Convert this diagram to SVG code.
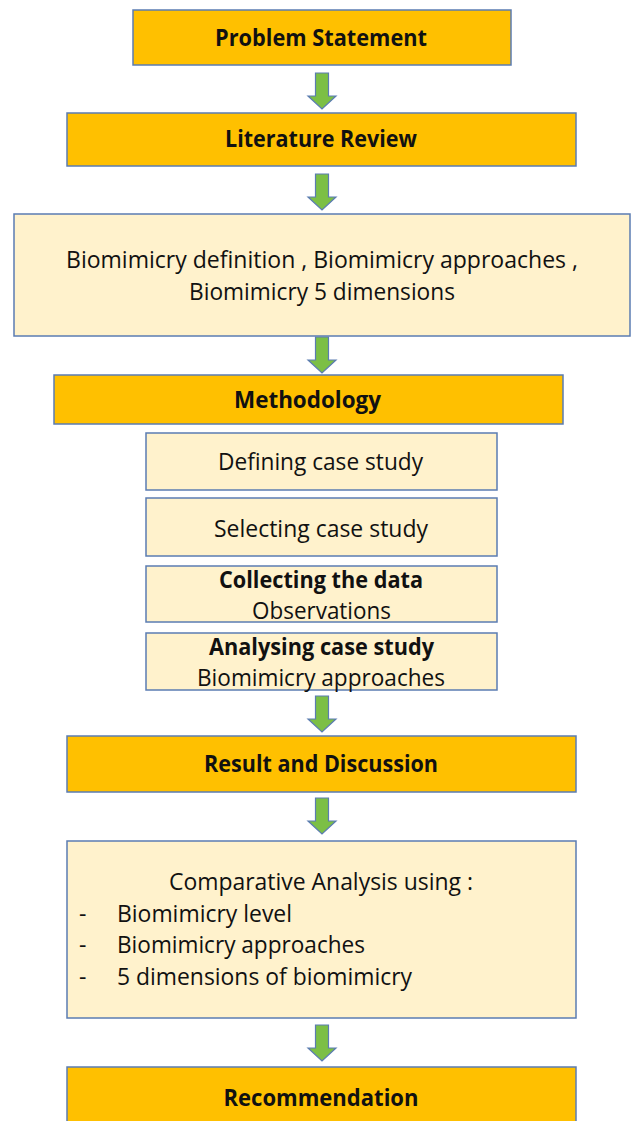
<svg xmlns="http://www.w3.org/2000/svg" width="631" height="1121" viewBox="0 0 631 1121" xmlns:xlink="http://www.w3.org/1999/xlink">
<style>
.dark{fill:#FFC000;stroke:#5B7CB2;stroke-width:1.5}
.light{fill:#FFF2CC;stroke:#5B7CB2;stroke-width:1.5}
text{font-family:"Open Sans","Liberation Sans",sans-serif;font-size:23px;fill:#111}
.b{font-weight:bold}
.c{text-anchor:middle}
.arr{fill:#7CBF45;stroke:#5B7CB2;stroke-width:1.2}
</style>
<defs>
<path id="arrow" d="M-6.5,0 H6.5 V23 H14 L0,36 L-14,23 H-6.5 Z"/>
</defs>
<rect width="631" height="1121" fill="#ffffff"/>
<g id="connectors">
<use xlink:href="#arrow" class="arr" x="322" y="73"/>
<use xlink:href="#arrow" class="arr" x="322" y="174"/>
<use xlink:href="#arrow" class="arr" x="322" y="337"/>
<use xlink:href="#arrow" class="arr" x="322" y="696"/>
<use xlink:href="#arrow" class="arr" x="322" y="798"/>
<use xlink:href="#arrow" class="arr" x="322" y="1025"/>
</g>
<g id="problem-statement">
<rect class="dark" x="133" y="10" width="378" height="55"/>
<text class="b c" x="321" y="46" textLength="212" lengthAdjust="spacingAndGlyphs">Problem Statement</text>
</g>
<g id="literature-review">
<rect class="dark" x="67" y="113" width="509" height="53"/>
<text class="b c" x="321" y="147" textLength="192" lengthAdjust="spacingAndGlyphs">Literature Review</text>
</g>
<g id="biomimicry-topics">
<rect class="light" x="14" y="214" width="616" height="122"/>
<text class="c" x="322" y="268" textLength="512" lengthAdjust="spacingAndGlyphs">Biomimicry definition , Biomimicry approaches ,</text>
<text class="c" x="322" y="300" textLength="266" lengthAdjust="spacingAndGlyphs">Biomimicry 5 dimensions</text>
</g>
<g id="methodology">
<rect class="dark" x="54" y="375" width="509" height="49"/>
<text class="b c" x="307.5" y="408" textLength="147" lengthAdjust="spacingAndGlyphs">Methodology</text>
</g>
<g id="defining-case-study">
<rect class="light" x="146" y="433" width="351" height="57"/>
<text class="c" x="320.5" y="470" textLength="205" lengthAdjust="spacingAndGlyphs">Defining case study</text>
</g>
<g id="selecting-case-study">
<rect class="light" x="146" y="498" width="351" height="58"/>
<text class="c" x="321" y="537" textLength="214" lengthAdjust="spacingAndGlyphs">Selecting case study</text>
</g>
<g id="collecting-data">
<rect class="light" x="146" y="566" width="351" height="56"/>
<text class="b c" x="321" y="588" textLength="204" lengthAdjust="spacingAndGlyphs">Collecting the data</text>
<text class="c" x="321.5" y="619" textLength="139" lengthAdjust="spacingAndGlyphs">Observations</text>
</g>
<g id="analysing-case-study">
<rect class="light" x="146" y="633" width="351" height="57"/>
<text class="b c" x="321.5" y="655" textLength="225" lengthAdjust="spacingAndGlyphs">Analysing case study</text>
<text class="c" x="321" y="686" textLength="248" lengthAdjust="spacingAndGlyphs">Biomimicry approaches</text>
</g>
<g id="result-discussion">
<rect class="dark" x="67" y="736" width="509" height="56"/>
<text class="b c" x="321" y="772" textLength="234" lengthAdjust="spacingAndGlyphs">Result and Discussion</text>
</g>
<g id="comparative-analysis">
<rect class="light" x="67" y="841" width="509" height="177"/>
<text class="c" x="321" y="890" textLength="304" lengthAdjust="spacingAndGlyphs">Comparative Analysis using :</text>
<text x="79" y="922">-</text>
<text x="117" y="922" textLength="175" lengthAdjust="spacingAndGlyphs">Biomimicry level</text>
<text x="79" y="953">-</text>
<text x="117" y="953" textLength="248" lengthAdjust="spacingAndGlyphs">Biomimicry approaches</text>
<text x="79" y="985">-</text>
<text x="117" y="985" textLength="295" lengthAdjust="spacingAndGlyphs">5 dimensions of biomimicry</text>
</g>
<g id="recommendation">
<rect class="dark" x="67" y="1067" width="509" height="70"/>
<text class="b c" x="321" y="1106" textLength="195" lengthAdjust="spacingAndGlyphs">Recommendation</text>
</g>
</svg>
